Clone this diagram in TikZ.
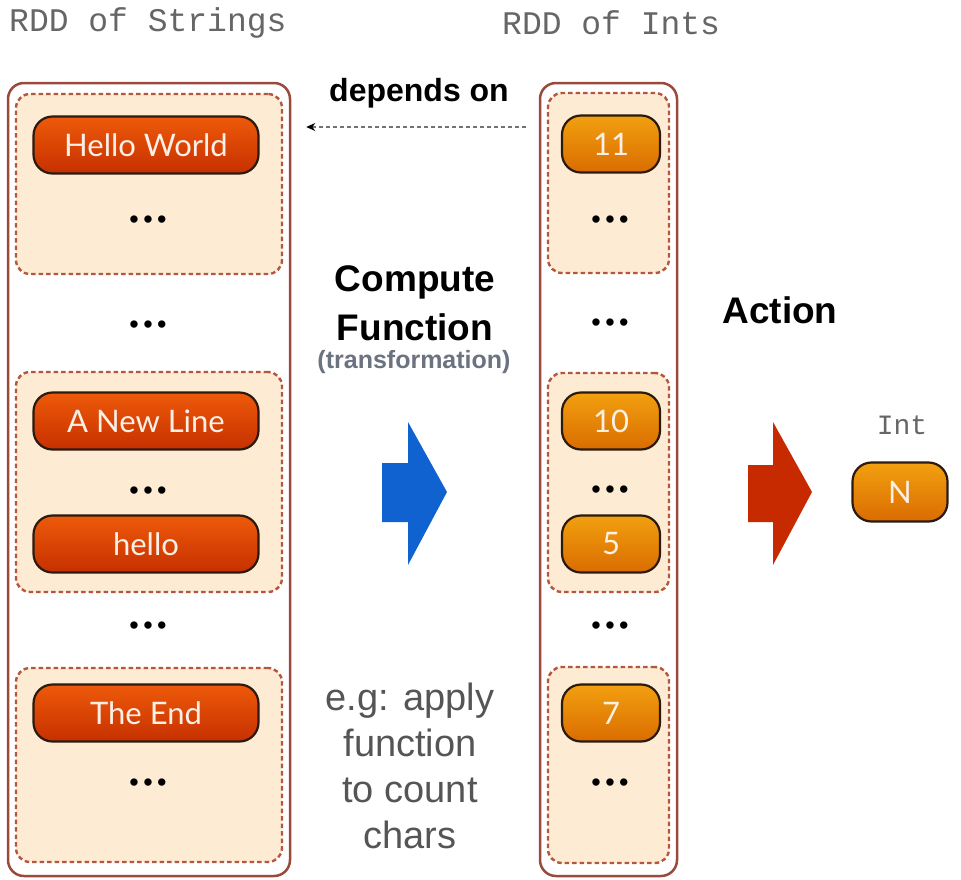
\documentclass[tikz,border=0pt]{standalone}
\usepackage{fontspec}
\setmainfont{Liberation Sans}
\newfontfamily\pillfont{Lato}
\newfontfamily\monofont{Liberation Mono}
\usetikzlibrary{arrows.meta}
\definecolor{outerc}{HTML}{9A4A3C}
\definecolor{dashc}{HTML}{B5573F}
\definecolor{partfill}{HTML}{FDEBD3}
\definecolor{redtop}{HTML}{EE5A0A}
\definecolor{redbot}{HTML}{C63000}
\definecolor{orgtop}{HTML}{F2A010}
\definecolor{orgbot}{HTML}{DA6C00}
\definecolor{pilltext}{HTML}{FBEFE6}
\definecolor{titlegray}{HTML}{666666}
\definecolor{bluearrow}{HTML}{1062D0}
\definecolor{redarrow}{HTML}{C82A00}
\definecolor{transgray}{HTML}{6B7280}
\definecolor{eggray}{HTML}{555555}
\definecolor{pillborder}{HTML}{2A1A10}
\begin{document}
\begin{tikzpicture}[x=1pt,y=-1pt,
  outerbox/.style={draw=outerc, line width=2.5pt, rounded corners=16pt, fill=white, inner sep=0pt, minimum height=793pt},
  partbox/.style={draw=dashc, line width=2.4pt, dash pattern=on 4.5pt off 3pt, rounded corners=14pt, fill=partfill, inner sep=0pt},
  pillbase/.style={draw=pillborder, line width=2.2pt, rounded corners=19pt, text=pilltext, inner sep=0pt, minimum height=57pt, font=\pillfont\fontsize{31}{31}\selectfont},
  strpill/.style={pillbase, top color=redtop, bottom color=redbot, minimum width=225pt},
  intpill/.style={pillbase, top color=orgtop, bottom color=orgbot, minimum width=98pt},
  dotsnode/.style={inner sep=0pt, font=\fontsize{27}{27}\selectfont},
  titletext/.style={inner sep=0pt, text=titlegray, font=\monofont\fontsize{33}{33}\selectfont},
  boldlabel/.style={inner sep=0pt, font=\bfseries\fontsize{37}{37}\selectfont},
  deparrow/.style={draw=black!55, line width=1.3pt, dash pattern=on 4pt off 3pt, -{Stealth[length=9pt,width=8pt,black]}}
]
\useasboundingbox (0,0) rectangle (961,879);

% titles
\node[titletext, anchor=west] (tstr) at (9,23) {RDD of Strings};
\node[titletext, anchor=west] (tint) at (502,23) {RDD of Ints};

% outer boxes
\node[outerbox, minimum width=282pt] (lout) at (149,479.5) {};
\node[outerbox, minimum width=137pt] (rout) at (608.5,479.5) {};

% partitions left
\node[partbox, minimum width=266pt, minimum height=180pt] (lp1) at (149,184) {};
\node[partbox, minimum width=266pt, minimum height=220pt] (lp2) at (149,482) {};
\node[partbox, minimum width=266pt, minimum height=194pt] (lp3) at (149,765) {};
% partitions right
\node[partbox, minimum width=121pt, minimum height=180pt] (rp1) at (608.5,183) {};
\node[partbox, minimum width=121pt, minimum height=219pt] (rp2) at (608.5,482.5) {};
\node[partbox, minimum width=121pt, minimum height=196pt] (rp3) at (608.5,765) {};

% string pills
\node[strpill] (s1) at (146,145) {Hello World};
\node[strpill] (s2) at (146,421) {A New Line};
\node[strpill] (s3) at (146,544) {hello};
\node[strpill] (s4) at (146,713) {The End};

% int pills
\node[intpill] (i1) at (611,144) {11};
\node[intpill] (i2) at (611,421) {10};
\node[intpill] (i3) at (611,544) {5};
\node[intpill] (i4) at (611,713) {7};

% dots left
\node[dotsnode] (ld1) at (148,222) {•\kern4.5pt•\kern4.5pt•};
\node[dotsnode] (ld2) at (148,327) {•\kern4.5pt•\kern4.5pt•};
\node[dotsnode] (ld3) at (148,493) {•\kern4.5pt•\kern4.5pt•};
\node[dotsnode] (ld4) at (148,628) {•\kern4.5pt•\kern4.5pt•};
\node[dotsnode] (ld5) at (148,785) {•\kern4.5pt•\kern4.5pt•};
% dots right
\node[dotsnode] (rd1) at (610,222) {•\kern4.5pt•\kern4.5pt•};
\node[dotsnode] (rd2) at (610,325) {•\kern4.5pt•\kern4.5pt•};
\node[dotsnode] (rd3) at (610,492) {•\kern4.5pt•\kern4.5pt•};
\node[dotsnode] (rd4) at (610,628) {•\kern4.5pt•\kern4.5pt•};
\node[dotsnode] (rd5) at (610,785) {•\kern4.5pt•\kern4.5pt•};

% depends on
\node[inner sep=0pt, font=\bfseries\fontsize{32}{32}\selectfont] (dep) at (419,93) {depends on};
\coordinate (depR) at ([xshift=-13pt]rout.west |- 0,127);
\coordinate (depL) at ([xshift=15pt]lout.east |- 0,127);
\draw[deparrow] (depR) -- (depL);

% compute function
\node[boldlabel] (comp) at (415,282) {Compute};
\node[boldlabel] (func) at (415,327) {Function};
\node[inner sep=0pt, text=transgray, font=\bfseries\fontsize{25}{25}\selectfont] (trans) at (414,362) {(transformation)};

% blue arrow
\fill[bluearrow] (382,463) -- (408,463) -- (408,422) -- (447,492) -- (408,565) -- (408,522) -- (382,522) -- cycle;

% example text
\node[inner sep=0pt, align=center, text=eggray, font=\fontsize{38}{46}\selectfont] (eg) at (410,766) {e.g: apply\\function\\to count\\chars};

% action
\node[boldlabel] (act) at (780,310) {Action};
\fill[redarrow] (748,465) -- (773,465) -- (773,422) -- (812,492) -- (773,565) -- (773,522) -- (748,522) -- cycle;

\node[inner sep=0pt, text=titlegray, font=\monofont\fontsize{28}{28}\selectfont] (intl) at (902,425) {Int};
\node[pillbase, top color=orgtop, bottom color=orgbot, minimum width=95pt, minimum height=59pt] (npill) at (900,492) {N};
\end{tikzpicture}
\end{document}
